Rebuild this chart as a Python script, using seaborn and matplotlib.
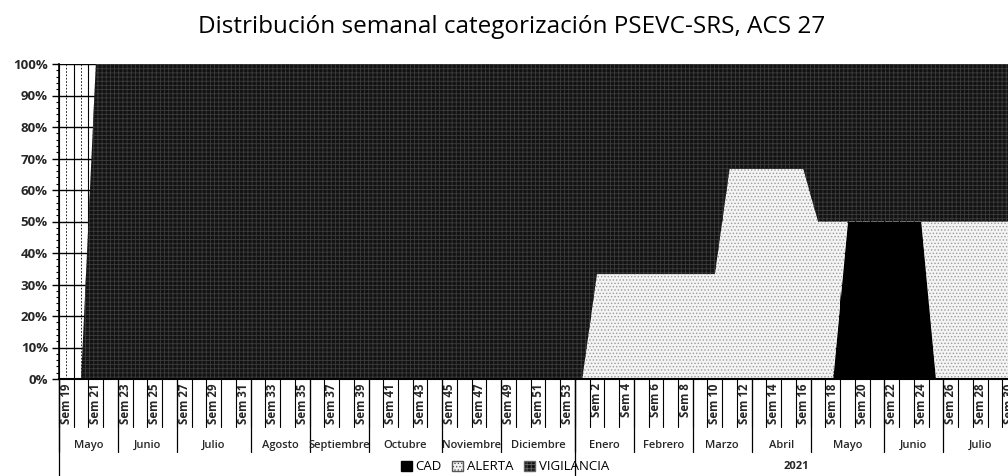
import matplotlib
matplotlib.use('Agg')
import matplotlib.pyplot as plt
import matplotlib.patches as mpatches
import matplotlib.transforms as mtransforms
import numpy as np
import seaborn as sns

sns.set_style('white')
plt.rcParams['font.family'] = ['Open Sans', 'DejaVu Sans']
plt.rcParams['hatch.linewidth'] = 0.6

# Semanas epidemiologicas (2020: Sem 19-53, 2021: Sem 1-30)
sem_2020 = list(range(19, 54))
sem_2021 = list(range(1, 31))
semanas = [f'Sem {w}' for w in sem_2020 + sem_2021]

meses = ['Mayo', 'Junio', 'Julio', 'Agosto', 'Septiembre', 'Octubre', 'Noviembre', 'Diciembre',
         'Enero', 'Febrero', 'Marzo', 'Abril', 'Mayo', 'Junio', 'Julio']
semanas_por_mes = [4, 4, 5, 4, 4, 5, 4, 5, 4, 4, 4, 4, 5, 4, 5]
anios = ['', '2021']
semanas_por_anio = [35, 30]

# porcentaje semanal por categoria
cad = [
    0, 0, 0, 0,            # Mayo 2020
    0, 0, 0, 0,            # Junio
    0, 0, 0, 0, 0,         # Julio
    0, 0, 0, 0,            # Agosto
    0, 0, 0, 0,            # Septiembre
    0, 0, 0, 0, 0,         # Octubre
    0, 0, 0, 0,            # Noviembre
    0, 0, 0, 0, 0,         # Diciembre
    0, 0, 0, 0,            # Enero 2021
    0, 0, 0, 0,            # Febrero
    0, 0, 0, 0,            # Marzo
    0, 0, 0, 0,            # Abril
    0, 0, 50, 50, 50,      # Mayo
    50, 50, 50, 0,         # Junio
    0, 0, 0, 0, 0,         # Julio
]
alerta = [
    0, 0, 0, 0,
    0, 0, 0, 0,
    0, 0, 0, 0, 0,
    0, 0, 0, 0,
    0, 0, 0, 0,
    0, 0, 0, 0, 0,
    0, 0, 0, 0,
    0, 0, 0, 0, 0,
    0, 33.3, 33.3, 33.3,
    33.3, 33.3, 33.3, 33.3,
    33.3, 33.3, 66.7, 66.7,
    66.7, 66.7, 66.7, 66.7,
    50, 50, 0, 0, 0,
    0, 0, 0, 50,
    50, 50, 50, 50, 50,
]
vigilancia = [
    0, 0, 100, 100,
    100, 100, 100, 100,
    100, 100, 100, 100, 100,
    100, 100, 100, 100,
    100, 100, 100, 100,
    100, 100, 100, 100, 100,
    100, 100, 100, 100,
    100, 100, 100, 100, 100,
    100, 66.7, 66.7, 66.7,
    66.7, 66.7, 66.7, 66.7,
    66.7, 66.7, 33.3, 33.3,
    33.3, 33.3, 33.3, 33.3,
    50, 50, 50, 50, 50,
    50, 50, 50, 50,
    50, 50, 50, 50, 50,
]

n = len(semanas)
x = np.arange(n)

fig = plt.figure(figsize=(10.08, 4.76), dpi=100)
ax = fig.add_axes([59 / 1008, 1 - 379 / 476, 958 / 1008, 315 / 476])

# grid (only visible where there is no data)
for v in range(10, 101, 10):
    ax.axhline(v, color='black', lw=1.0, zorder=0)
for i in range(n + 1):
    ax.axvline(i - 0.5, color='black', lw=0.8, zorder=0)
for i in range(n):
    ax.axvline(i, color='black', lw=0.6, ls=(0, (2, 2)), zorder=0)

polys = ax.stackplot(x, cad, alerta, vigilancia,
                     colors=['black', '#f4f4f4', '#121212'], zorder=2)
polys[0].set_linewidth(0)
polys[1].set_hatch('.....')
polys[1].set_edgecolor('#9a9a9a')
polys[1].set_linewidth(0)
polys[2].set_hatch('++++')
polys[2].set_edgecolor('#3c3c3c')
polys[2].set_linewidth(0)

ax.set_xlim(-0.5, n - 0.5)
ax.set_ylim(0, 100)
ax.set_yticks(range(0, 101, 10))
ax.set_yticklabels([f'{v}%' for v in range(0, 101, 10)], fontsize=9.5, fontweight='bold')
ax.set_yticks(range(0, 101, 2), minor=True)
ax.tick_params(axis='y', which='major', direction='out', length=5, width=1, color='black', pad=3, left=True)
ax.tick_params(axis='y', which='minor', direction='out', length=2.5, width=0.8, color='black', left=True)

ax.set_xticks(x[::2])
ax.set_xticklabels(semanas[::2], rotation=90, fontsize=8.3, fontweight='bold', va='top')
ax.tick_params(axis='x', length=0, pad=3)

for s in ['top', 'right']:
    ax.spines[s].set_visible(False)
ax.spines['left'].set_color('black')
ax.spines['bottom'].set_color('black')
ax.spines['left'].set_linewidth(1.2)
ax.spines['bottom'].set_linewidth(1.5)

trans = mtransforms.blended_transform_factory(ax.transData, ax.transAxes)

# category separators under the axis
for i in range(n + 1):
    ax.plot([i - 0.5, i - 0.5], [0, -0.152], color='black', lw=0.8, transform=trans, clip_on=False)

# month separators and labels
edges = np.concatenate([[0], np.cumsum(semanas_por_mes)])
for k, mes in enumerate(meses):
    ax.plot([edges[k] - 0.5, edges[k] - 0.5], [0, -0.232], color='black', lw=0.9,
            transform=trans, clip_on=False)
    ax.text((edges[k] + edges[k + 1]) / 2 - 0.5, -0.21, mes, transform=trans,
            ha='center', va='center', fontsize=8, fontweight='semibold')

# year separators and labels
yedges = np.concatenate([[0], np.cumsum(semanas_por_anio)])
for k, anio in enumerate(anios):
    ax.plot([yedges[k] - 0.5, yedges[k] - 0.5], [0, -0.31], color='black', lw=0.9,
            transform=trans, clip_on=False)
    ax.text((yedges[k] + yedges[k + 1]) / 2 - 0.5, -0.279, anio, transform=trans,
            ha='center', va='center', fontsize=8, fontweight='bold')

fig.text(512 / 1008, 1 - 33 / 476, 'Distribución semanal categorización PSEVC-SRS, ACS 27',
         ha='center', va='baseline', fontsize=17.5, color='black')

handles = [
    mpatches.Patch(facecolor='black', edgecolor='black', label='CAD'),
    mpatches.Patch(facecolor='#f2f2f2', edgecolor='#555555', hatch='.....', label='ALERTA'),
    mpatches.Patch(facecolor='#121212', edgecolor='#666666', hatch='++++', label='VIGILANCIA'),
]
fig.legend(handles=handles, loc='center', bbox_to_anchor=(505 / 1008, 1 - 467 / 476),
           ncol=3, frameon=False, fontsize=9.5, handlelength=0.8, handleheight=0.8,
           handletextpad=0.3, columnspacing=0.8, labelcolor='black')

fig.savefig('out.png', dpi=100)
